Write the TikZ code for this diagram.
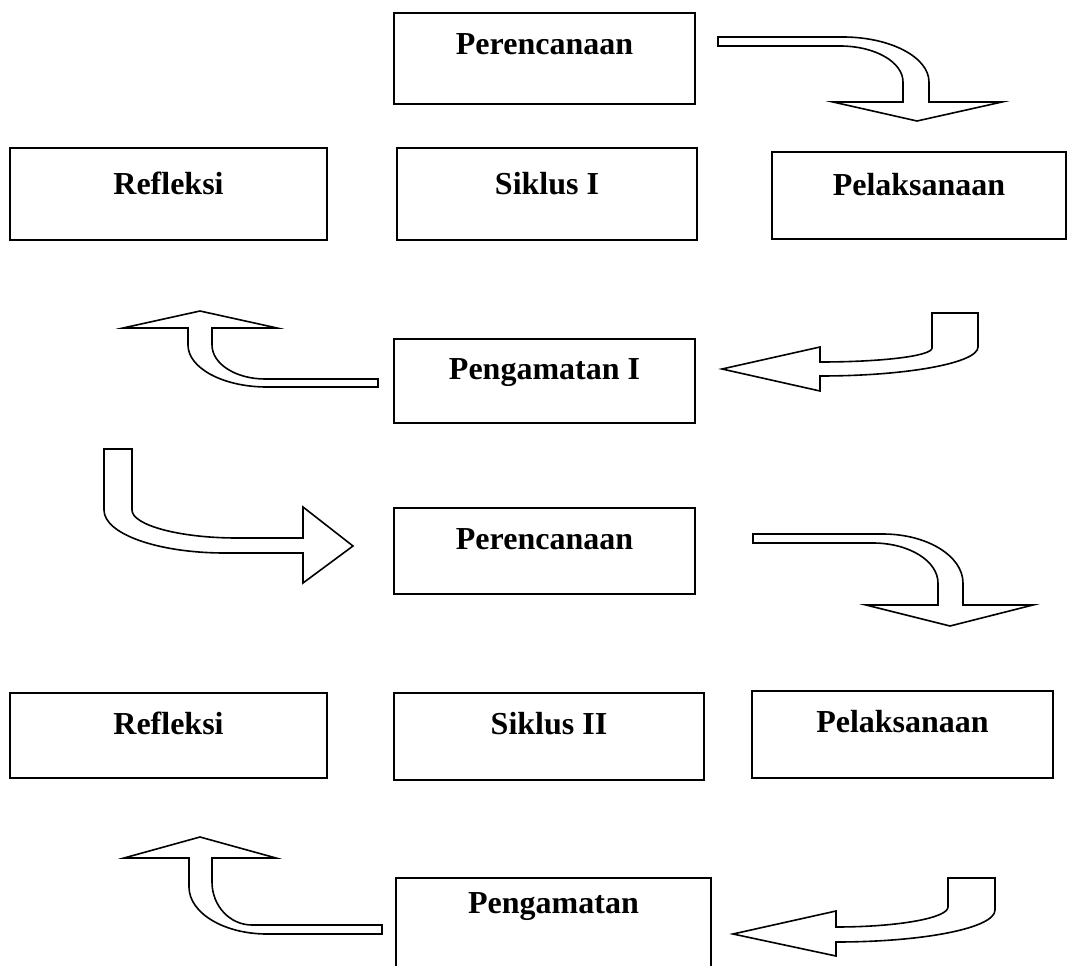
\documentclass[tikz,border=0pt]{standalone}
\usepackage{fontspec}
\setmainfont{Liberation Serif}
\begin{document}
\begin{tikzpicture}[x=1pt,y=-1pt,
  box/.style={draw, line width=2pt, rectangle, inner xsep=0pt, inner ysep=0pt,
    anchor=north, font=\bfseries\fontsize{32}{38}\selectfont},
  blockarrow/.style={draw, line width=1.6pt, fill=white, line join=miter}]
\useasboundingbox (0,0) rectangle (1069,966);
\clip (0,0) rectangle (1069,966);
% Cycle I
\node[box, minimum width=301pt, text height=41.5pt, text depth=49.5pt] (plan1) at (544.5,12) {Perencanaan};
\node[box, minimum width=317pt, text height=46.5pt, text depth=45.5pt] (refl1) at (168.5,147) {Refleksi};
\node[box, minimum width=300pt, text height=46.5pt, text depth=45.5pt] (cyc1) at (547,147) {Siklus I};
\node[box, minimum width=294pt, text height=43.5pt, text depth=43.5pt] (exec1) at (919,151) {Pelaksanaan};
\node[box, minimum width=301pt, text height=40.5pt, text depth=43.5pt] (obs1) at (544.5,338) {Pengamatan I};
% Cycle II
\node[box, minimum width=301pt, text height=41.5pt, text depth=44.5pt] (plan2) at (544.5,507) {Perencanaan};
\node[box, minimum width=317pt, text height=41.5pt, text depth=43.5pt] (refl2) at (168.5,692) {Refleksi};
\node[box, minimum width=310pt, text height=41pt, text depth=46pt] (cyc2) at (549,692) {Siklus II};
\node[box, minimum width=301pt, text height=41pt, text depth=46pt] (exec2) at (902.5,690) {Pelaksanaan};
\node[box, minimum width=315pt, text height=35.5pt, text depth=67.5pt] (obs2) at (553.5,877) {Pengamatan};
% Block arrows
% plan1 -> exec1
\draw[blockarrow] (718,37) -- (843,37) .. controls (890,37) and (929,57) .. (929,82)
  -- (929,102) -- (1002,102) -- (917,121) -- (833,102) -- (903,102) -- (903,82)
  .. controls (903,62) and (875,46) .. (840,46) -- (718,46) -- cycle;
% exec1 -> obs1
\draw[blockarrow] (932,313) -- (978,313) -- (978,347) .. controls (978,363) and (907,376) .. (820,376)
  -- (820,391) -- (722,369) -- (820,347) -- (820,362)
  .. controls (882,362) and (932,356) .. (932,348) -- cycle;
% obs1 -> refl1
\draw[blockarrow] (378,379) -- (265,379) .. controls (236,379) and (212,364) .. (212,345)
  -- (212,328) -- (277,328) -- (200,311) -- (123,328) -- (188,328) -- (188,345)
  .. controls (188,368) and (223,387) .. (267,387) -- (378,387) -- cycle;
% refl1 -> plan2
\draw[blockarrow] (104,449) -- (132,449) -- (132,510) .. controls (132,525) and (179,538) .. (237,538)
  -- (303,538) -- (303,507) -- (353,546) -- (303,583) -- (303,553) -- (225,553)
  .. controls (158,553) and (104,534) .. (104,510) -- cycle;
% plan2 -> exec2
\draw[blockarrow] (753,534) -- (883,534) .. controls (927,534) and (963,556) .. (963,583)
  -- (963,605) -- (1033,605) -- (950,626) -- (866,605) -- (938,605) -- (938,583)
  .. controls (938,561) and (909,543) .. (873,543) -- (753,543) -- cycle;
% exec2 -> obs2
\draw[blockarrow] (948,878) -- (995,878) -- (995,910) .. controls (995,928) and (924,942) .. (836,942)
  -- (836,956) -- (733,934) -- (836,911) -- (836,927)
  .. controls (898,927) and (948,918) .. (948,907) -- cycle;
% obs2 -> refl2
\draw[blockarrow] (382,925) -- (252,925) .. controls (230,925) and (212,906) .. (212,882)
  -- (212,858) -- (276,858) -- (200,837) -- (124,858) -- (189,858) -- (189,887)
  .. controls (189,913) and (224,934) .. (267,934) -- (382,934) -- cycle;
\end{tikzpicture}
\end{document}
